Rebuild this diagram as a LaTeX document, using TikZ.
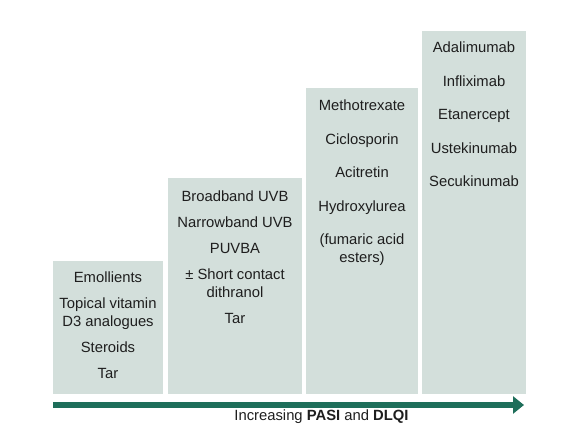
\documentclass[tikz,border=0pt]{standalone}
\usepackage{fontspec}
\setmainfont{Liberation Sans}
\usepackage{xcolor}
\usepackage{tikz}
\usetikzlibrary{arrows.meta,positioning}
\definecolor{boxfill}{RGB}{211,223,219}
\definecolor{arrowgreen}{RGB}{30,110,90}
\definecolor{inktext}{RGB}{30,30,30}
\begin{document}
\begin{tikzpicture}[
  x=1pt,y=-1pt,
  node distance=11pt and 5pt,
  box/.style={rectangle,fill=boxfill,inner sep=0pt,outer sep=0pt,
              anchor=south west},
  items/.style={align=center,inner sep=0pt,text=inktext,
                font=\fontsize{14.8}{18}\selectfont},
  arr/.style={-{Triangle[length=11pt,width=17pt]},arrowgreen,line width=6.5pt}
]
  \useasboundingbox (0,0) rectangle (562,430);

  % treatment steps
  \node[box,minimum width=110pt,minimum height=133pt] (b1) at (53,394) {};
  \node[box,minimum width=134pt,minimum height=216pt,above right=0pt and 5pt of b1.south east] (b2) {};
  \node[box,minimum width=112pt,minimum height=306pt,above right=0pt and 4pt of b2.south east] (b3) {};
  \node[box,minimum width=104pt,minimum height=363pt,above right=0pt and 4pt of b3.south east] (b4) {};

  \node[items,below=11pt of b1.north] (t1) {Emollients\\[8pt]Topical vitamin\\D3 analogues\\[8pt]Steroids\\[8pt]Tar};
  \node[items,below=13pt of b2.north] (t2) {Broadband UVB\\[8pt]Narrowband UVB\\[8pt]PUVBA\\[8pt]± Short contact\\dithranol\\[8pt]Tar};
  \node[items,below=12pt of b3.north] (t3) {Methotrexate\\[15.5pt]Ciclosporin\\[15.5pt]Acitretin\\[15.5pt]Hydroxylurea\\[15.5pt](fumaric acid\\esters)};
  \node[items,below=11pt of b4.north] (t4) {Adalimumab\\[15.5pt]Infliximab\\[15.5pt]Etanercept\\[15.5pt]Ustekinumab\\[15.5pt]Secukinumab};

  % severity axis
  \coordinate (axstart) at (53,405);
  \coordinate (axend) at (524,405);
  \draw[arr] (axstart)--(axend);
  \node[items] (axlabel) at (321.5,417) {Increasing \textbf{PASI} and \textbf{DLQI}};
\end{tikzpicture}
\end{document}
